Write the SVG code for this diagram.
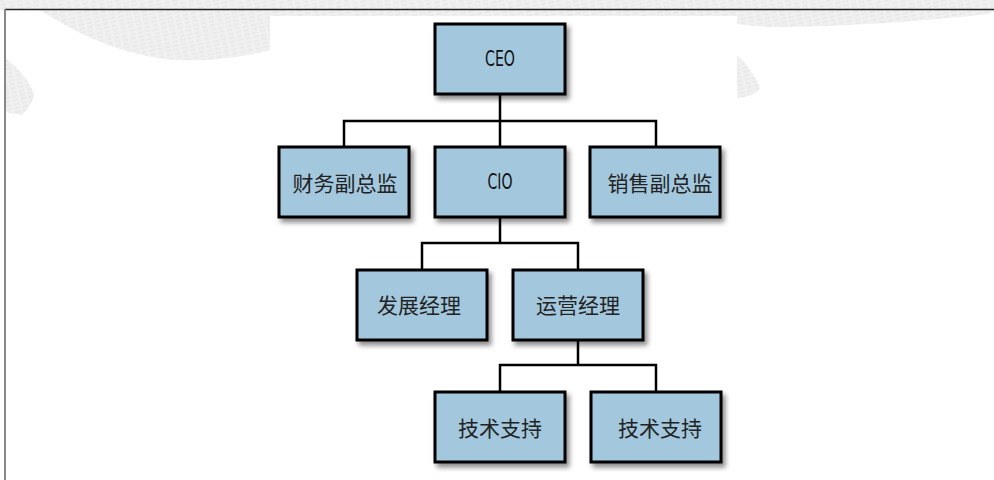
<svg xmlns="http://www.w3.org/2000/svg" width="994" height="480" viewBox="0 0 994 480">
<defs>
<filter id="sh" x="-10%" y="-10%" width="130%" height="140%">
<feDropShadow dx="3" dy="4" stdDeviation="2.5" flood-color="#000" flood-opacity="0.45"/>
</filter>
<pattern id="tex" width="8" height="4" patternUnits="userSpaceOnUse" patternTransform="rotate(-12)">
<rect width="8" height="4" fill="#f0f0f0"/>
<path d="M0 1 L5 1" stroke="#e2e2e2" stroke-width="1"/>
</pattern>
<style>
.box{fill:#a3c8de;stroke:#000;stroke-width:3;filter:url(#sh)}
.conn{fill:none;stroke:#000;stroke-width:2.5}
.en{font-family:"DejaVu Sans Condensed","Liberation Sans Narrow","Liberation Sans",sans-serif;font-stretch:condensed;font-size:21px;fill:#111;text-anchor:middle;dominant-baseline:central}
.zh{font-family:"Noto Sans CJK SC","Noto Sans",sans-serif;font-size:21px;fill:#222;text-anchor:middle;dominant-baseline:central}
</style>
</defs>
<g id="background">
<rect x="0" y="0" width="994" height="10" fill="url(#tex)"/>
<path d="M40 10 C80 35 120 55 175 60 C220 62 250 55 270 50 L270 16 L737 16 L737 10 Z" fill="url(#tex)"/>
<path d="M737 10 L994 10 L990 14 C930 20 860 26 780 27 C760 27 745 25 737 24 Z" fill="url(#tex)"/>
<path d="M5 58 C15 65 30 80 34 95 C32 105 25 112 22 115 L5 112 Z" fill="url(#tex)"/>
<path d="M737 55 C745 62 755 75 760 88 C755 95 748 97 737 98 Z" fill="url(#tex)"/>
<line x1="5" y1="9.5" x2="994" y2="9.5" stroke="#222" stroke-width="1.5"/>
<line x1="5" y1="9" x2="5" y2="480" stroke="#888" stroke-width="2"/>
</g>
<g id="connectors">
<path class="conn" d="M500 94 V121 M344 147 V121 H656 V147 M500 121 V147"/>
<path class="conn" d="M500 217 V243 M422 270 V243 H578 V270"/>
<path class="conn" d="M578 340 V365 M500 392 V365 H656 V392"/>
</g>
<g id="ceo"><rect class="box" x="435" y="24" width="130" height="70"/><text class="en" x="500" y="59" textLength="30" lengthAdjust="spacingAndGlyphs">CEO</text></g>
<g id="cfo"><rect class="box" x="279" y="147" width="130" height="70"/><text class="zh" x="345" y="182">财务副总监</text></g>
<g id="cio"><rect class="box" x="435" y="147" width="130" height="70"/><text class="en" x="500" y="182" textLength="25" lengthAdjust="spacingAndGlyphs">CIO</text></g>
<g id="sales"><rect class="box" x="590" y="147" width="130" height="70"/><text class="zh" x="660" y="182">销售副总监</text></g>
<g id="dev"><rect class="box" x="357" y="270" width="130" height="70"/><text class="zh" x="419" y="304">发展经理</text></g>
<g id="ops"><rect class="box" x="513" y="270" width="130" height="70"/><text class="zh" x="578" y="304">运营经理</text></g>
<g id="support1"><rect class="box" x="435" y="392" width="130" height="70"/><text class="zh" x="500" y="427">技术支持</text></g>
<g id="support2"><rect class="box" x="591" y="392" width="130" height="70"/><text class="zh" x="660" y="427">技术支持</text></g>
</svg>
